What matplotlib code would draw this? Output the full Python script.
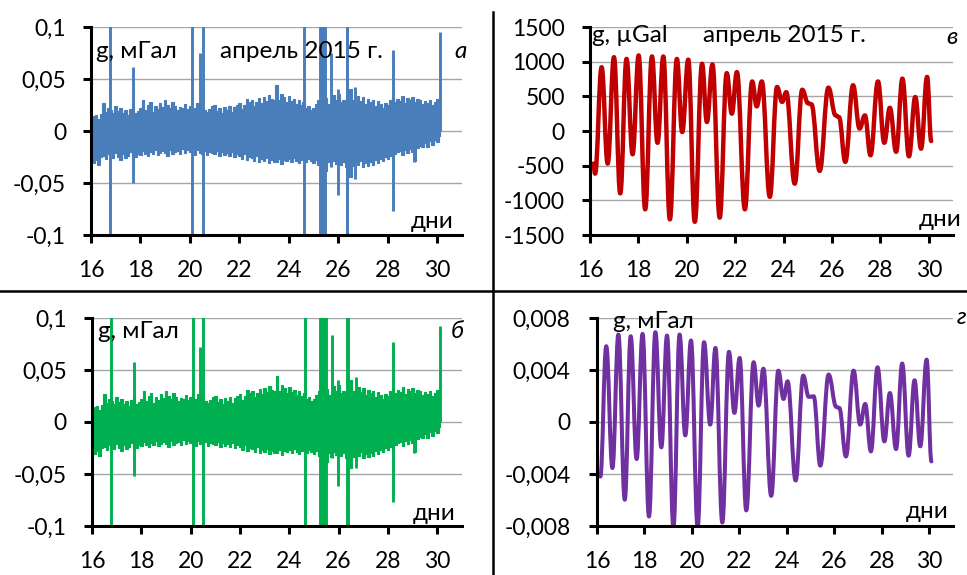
import numpy as np
import matplotlib
matplotlib.use("Agg")
import matplotlib.pyplot as plt
from matplotlib.path import Path
from matplotlib.patches import PathPatch
from matplotlib.lines import Line2D

plt.rcParams['font.family'] = ['Lato', 'DejaVu Sans']

# ---------------- data ----------------
day_ticks = [16, 18, 20, 22, 24, 26, 28, 30]

# noise band (panels a, б): envelope sampled every 0.1 day from 16.1 to 30.1, mGal*1000
noise_days = [round(16.1 + 0.1 * i, 1) for i in range(141)]
noise_upper_k = [14, 15, 12, 16,
                 27, 18, 22, 20, 17, 24, 19, 22, 17, 20,
                 15, 21, 25, 17, 19, 22, 30, 20, 25, 28,
                 18, 24, 21, 27, 23, 30, 25, 22, 28, 24,
                 20, 23, 22, 26, 21, 24, 18, 22, 27, 26,
                 22, 20, 18, 21, 24, 25, 19, 22, 17, 23,
                 20, 24, 18, 23, 25, 27, 21, 25, 31, 28,
                 30, 24, 28, 32, 27, 33, 29, 35, 31, 30,
                 44, 30, 36, 33, 28, 34, 29, 31, 26, 30,
                 25, 28, 22, 24, 20, 22, 26, 30, 24, 28,
                 32, 26, 24, 35, 30, 36, 28, 30, 25, 32,
                 40, 30, 27, 34, 29, 33, 26, 31, 28, 30,
                 24, 29, 26, 22, 27, 25, 30, 33, 28, 31,
                 29, 34, 27, 32, 30, 33, 28, 31, 30, 26,
                 29, 27, 30, 25, 28, 31, 30]
noise_lower_k = [-31, -28, -33, -25,
                 -24, -27, -22, -20, -26, -21, -25, -28, -22, -26,
                 -24, -20, -27, -25, -22, -23, -19, -22, -24, -20,
                 -22, -18, -23, -21, -19, -21, -24, -18, -22, -20,
                 -19, -22, -17, -21, -18, -20, -16, -23, -18, -21,
                 -22, -19, -23, -20, -21, -22, -19, -24, -20, -23,
                 -21, -24, -20, -25, -22, -24, -27, -22, -28, -25,
                 -26, -29, -24, -30, -27, -29, -26, -31, -28, -30,
                 -30, -27, -32, -28, -29, -27, -30, -26, -29, -31,
                 -28, -26, -30, -27, -29, -31, -28, -33, -30, -35,
                 -38, -30, -34, -29, -32, -28, -33, -30, -35, -31,
                 -44, -34, -30, -33, -29, -35, -31, -34, -30, -33,
                 -28, -31, -27, -29, -25, -27, -24, -26, -22, -20,
                 -19, -23, -18, -21, -17, -20, -29, -16, -14, -15,
                 -12, -15, -10, -13, -9, -11, -5]

# spikes: day, top, bottom (mGal)
spikes_a_day = [16.77, 17.71, 20.08, 20.39, 20.51, 24.63, 25.24, 25.30, 25.36, 25.42, 25.47,
                25.72, 25.98, 26.34, 26.37, 26.69, 28.20, 29.05, 30.11]
spikes_a_top = [0.12, 0.062, 0.12, 0.075, 0.12, 0.12, 0.12, 0.12, 0.12, 0.12, 0.12,
                0.075, 0.040, 0.12, 0.12, 0.042, 0.078, 0.010, 0.095]
spikes_a_bot = [-0.12, -0.050, -0.12, 0.0, -0.12, -0.12, -0.12, -0.12, -0.12, -0.12, -0.12,
                -0.035, -0.062, -0.12, -0.12, -0.046, -0.077, -0.030, 0.0]
spikes_b_day = spikes_a_day
spikes_b_top = [0.12, 0.058, 0.12, 0.072, 0.12, 0.12, 0.12, 0.12, 0.12, 0.12, 0.12,
                0.084, 0.040, 0.12, 0.12, 0.043, 0.077, 0.010, 0.092]
spikes_b_bot = [-0.12, -0.052, -0.12, 0.0, -0.12, -0.12, -0.12, -0.12, -0.12, -0.12, -0.12,
                -0.035, -0.062, -0.12, -0.12, -0.044, -0.077, -0.030, 0.0]

# tidal curve (panel в), extrema in µGal
tide_v_day = [16.14, 16.21, 16.48, 16.73, 16.99, 17.25, 17.51, 17.76, 18.01, 18.28, 18.56, 18.79,
              19.03, 19.30, 19.59, 19.81, 20.06, 20.33, 20.63, 20.83, 21.06, 21.36, 21.65, 21.86,
              22.07, 22.40, 22.70, 22.89, 23.10, 23.43, 23.73, 23.94, 24.11, 24.46, 24.77, 25.01,
              25.15, 25.49, 25.85, 26.15, 26.29, 26.55, 26.87, 27.14, 27.36, 27.59, 27.90, 28.16,
              28.39, 28.65, 28.91, 29.18, 29.44, 29.68, 29.93, 30.10]
tide_v_val = [-470, -615, 920, -470, 1065, -900, 1040, -335, 1090, -1130, 1075, -170,
              1075, -1275, 1040, -15, 1030, -1310, 970, 130, 960, -1250, 835, 250,
              850, -1130, 715, 355, 715, -950, 635, 420, 560, -760, 595, 400,
              385, -575, 625, 225, 200, -445, 660, 35, 225, -350, 715, -170,
              335, -300, 755, -365, 490, -255, 780, -145]

# tidal curve (panel г), extrema in mGal
tide_g_day = [16.14, 16.39, 16.65, 16.90, 17.17, 17.42, 17.67, 17.92, 18.19, 18.46, 18.71, 18.95,
              19.22, 19.48, 19.72, 19.96, 20.24, 20.51, 20.77, 20.99, 21.28, 21.56, 21.79, 22.01,
              22.29, 22.60, 22.81, 23.01, 23.34, 23.64, 23.86, 24.03, 24.37, 24.69, 24.92, 25.13,
              25.41, 25.76, 26.08, 26.21, 26.49, 26.81, 27.09, 27.30, 27.54, 27.82, 28.11, 28.34,
              28.60, 28.86, 29.13, 29.38, 29.62, 29.89, 30.09]
tide_g_val = [-0.0042, 0.00583, -0.00354, 0.00673, -0.00598, 0.0066, -0.00285, 0.00678,
              -0.00727, 0.00691, -0.00195, 0.00665, -0.0081, 0.00673, -0.00103, 0.00627,
              -0.0081, 0.00614, -0.0002, 0.0057, -0.00773, 0.0054, 0.0007, 0.00493,
              -0.0068, 0.0046, 0.00126, 0.0041, -0.00568, 0.00395, 0.00177, 0.00313,
              -0.0045, 0.00357, 0.00193, 0.00198, -0.00336, 0.00365, 0.00116, 0.00108,
              -0.00265, 0.00395, -0.0002, 0.00139, -0.00226, 0.00421, -0.00149, 0.00223,
              -0.00208, 0.0045, -0.00259, 0.00321, -0.00187, 0.0048, -0.00303]

yt_noise = [-0.1, -0.05, 0, 0.05, 0.1]
yl_noise = ['-0,1', '-0,05', '0', '0,05', '0,1']
yt_v = [-1500, -1000, -500, 0, 500, 1000, 1500]
yl_v = ['-1500', '-1000', '-500', '0', '500', '1000', '1500']
yt_g = [-0.008, -0.004, 0, 0.004, 0.008]
yl_g = ['-0,008', '-0,004', '0', '0,004', '0,008']

# ---------------- figure ----------------
W, H = 967, 575
fig = plt.figure(figsize=(W / 100, H / 100), dpi=100)

TICK_FS = 16.5
LBL_FS = 17.5
TXT_FS = 17.5


def make_ax(left, right, top, bottom, yticks, ylabels, ylim, ypad):
    ax = fig.add_axes([left / W, 1 - bottom / H, (right - left) / W, (bottom - top) / H])
    ax.set_xlim(16, 31)
    ax.set_ylim(*ylim)
    ax.set_xticks(day_ticks)
    ax.set_xticklabels([str(d) for d in day_ticks])
    ax.set_yticks(yticks)
    ax.set_yticklabels(ylabels)
    for s in ['top', 'right']:
        ax.spines[s].set_visible(False)
    for s in ['left', 'bottom']:
        ax.spines[s].set_linewidth(2.2)
        ax.spines[s].set_color('black')
        ax.spines[s].set_zorder(5)
    ax.tick_params(axis='both', direction='out', length=6, width=2.2, labelsize=TICK_FS,
                   colors='black')
    ax.tick_params(axis='y', pad=ypad)
    ax.tick_params(axis='x', pad=12)
    ax.grid(axis='y', color='#a6a6a6', linewidth=1.0)
    ax.set_axisbelow(True)
    ax.patch.set_alpha(0)
    return ax


def noise_panel(ax, color, sd, st, sb):
    up = np.array(noise_upper_k) / 1000.0
    lo = np.array(noise_lower_k) / 1000.0
    ax.fill_between(noise_days, lo, up, step='mid', color=color, linewidth=0.8,
                    edgecolor=color, zorder=2)
    ax.vlines(sd, sb, st, color=color, linewidth=2.1, zorder=3)


def tide_panel(ax, days, vals, color, lw):
    verts = [(days[0], vals[0])]
    codes = [Path.MOVETO]
    k = 0.4
    for i in range(len(days) - 1):
        t0, v0 = days[i], vals[i]
        t1, v1 = days[i + 1], vals[i + 1]
        dt = t1 - t0
        verts += [(t0 + k * dt, v0), (t1 - k * dt, v1), (t1, v1)]
        codes += [Path.CURVE4] * 3
    p = PathPatch(Path(verts, codes), fill=False, edgecolor=color, linewidth=lw,
                  capstyle='round', joinstyle='round', zorder=3)
    ax.add_patch(p)


def ftext(x, y, s, **kw):
    fig.text(x / W, 1 - y / H, s, va='center', **kw)


# panel a
ax_a = make_ax(91, 462, 27, 235, yt_noise, yl_noise, (-0.1, 0.1), 12)
noise_panel(ax_a, '#4a7ebb', spikes_a_day, spikes_a_top, spikes_a_bot)
ftext(96, 51, 'g, мГал', fontsize=LBL_FS)
ftext(220, 51, 'апрель 2015 г.', fontsize=TXT_FS)
ftext(454, 51, 'а', fontsize=LBL_FS, style='italic')
ftext(411, 221, 'дни', fontsize=LBL_FS)

# panel б
ax_b = make_ax(92, 462, 318, 526, yt_noise, yl_noise, (-0.1, 0.1), 12)
noise_panel(ax_b, '#00b050', spikes_b_day, spikes_b_top, spikes_b_bot)
ftext(98, 332, 'g, мГал', fontsize=LBL_FS)
ftext(451, 332, 'б', fontsize=LBL_FS, style='italic')
ftext(413, 513, 'дни', fontsize=LBL_FS)

# panel в
ax_v = make_ax(590, 953, 27, 235, yt_v, yl_v, (-1500, 1500), 12)
tide_panel(ax_v, tide_v_day, tide_v_val, '#c00000', 3.2)
ftext(592, 35, 'g, µGal', fontsize=LBL_FS)
ftext(703, 35, 'апрель 2015 г.', fontsize=TXT_FS)
ftext(946, 37, 'в', fontsize=LBL_FS, style='italic')
ftext(919, 220, 'дни', fontsize=LBL_FS)

# panel г
ax_g = make_ax(597, 953, 318, 526, yt_g, yl_g, (-0.008, 0.008), 13)
tide_panel(ax_g, tide_g_day, tide_g_val, '#7030a0', 2.9)
ftext(613, 321, 'g, мГал', fontsize=LBL_FS)
ftext(957, 318, 'г', fontsize=LBL_FS, style='italic')
ftext(906, 512, 'дни', fontsize=LBL_FS)

# divider lines
fig.add_artist(Line2D([0, 1], [1 - 291 / H, 1 - 291 / H], color='black', linewidth=1.8))
fig.add_artist(Line2D([493 / W, 493 / W], [0, 1 - 12 / H], color='black', linewidth=1.8))

fig.savefig('out.png', dpi=100)
